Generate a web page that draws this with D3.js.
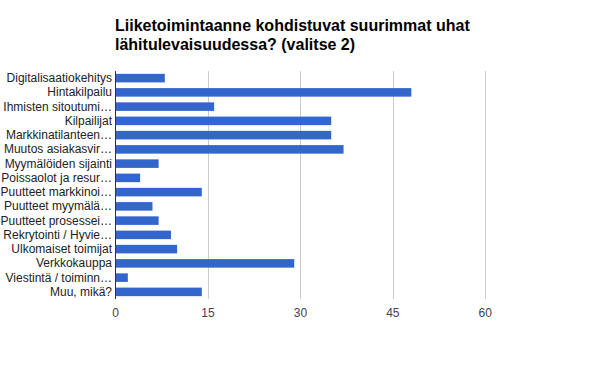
<!DOCTYPE html>
<html>
<head>
<meta charset="utf-8">
<script src="https://cdn.jsdelivr.net/npm/d3@7"></script>
<style>
  body { margin: 0; background: #fff; }
  text { font-family: Arial, "Liberation Sans", sans-serif; }
</style>
</head>
<body>
<script>
// chart data
var categories = [
  "Digitalisaatiokehitys",
  "Hintakilpailu",
  "Ihmisten sitoutumi\u2026",
  "Kilpailijat",
  "Markkinatilanteen\u2026",
  "Muutos asiakasvir\u2026",
  "Myymälöiden sijainti",
  "Poissaolot ja resur\u2026",
  "Puutteet markkinoi\u2026",
  "Puutteet myymälä\u2026",
  "Puutteet prosessei\u2026",
  "Rekrytointi / Hyvie\u2026",
  "Ulkomaiset toimijat",
  "Verkkokauppa",
  "Viestintä / toiminn\u2026",
  "Muu, mikä?"
];
var values = [8, 48, 16, 35, 35, 37, 7, 4, 14, 6, 7, 9, 10, 29, 2, 14];
var ticks = [0, 15, 30, 45, 60];
var titleLines = ["Liiketoimintaanne kohdistuvat suurimmat uhat", "lähitulevaisuudessa? (valitse 2)"];

var svg = d3.select("body").append("svg")
  .attr("width", 600)
  .attr("height", 371);

// plot area (note: "top" clashes with window.top, so use plotTop)
var plotLeft = 115.5, plotRight = 485.3, plotTop = 71, plotBottom = 299;

var x = d3.scaleLinear().domain([0, 60]).range([plotLeft, plotRight]);
var y = d3.scaleBand().domain(categories).range([plotTop, plotBottom]).paddingInner(0.4).paddingOuter(0.2);

// title
svg.selectAll("text.title").data(titleLines).enter().append("text")
  .attr("class", "title")
  .attr("x", 115)
  .attr("y", function(d, i){ return 31 + i * 19; })
  .style("font-size", "16px")
  .style("font-weight", "bold")
  .style("fill", "#000")
  .text(function(d){ return d; });

// gridlines
svg.selectAll("line.grid").data(ticks.slice(1)).enter().append("line")
  .attr("class", "grid")
  .attr("x1", function(d){ return Math.round(x(d)) + 0.5; })
  .attr("x2", function(d){ return Math.round(x(d)) + 0.5; })
  .attr("y1", plotTop)
  .attr("y2", plotBottom)
  .style("stroke", "#cccccc")
  .style("stroke-width", 1);

// bars
svg.selectAll("rect.bar").data(values).enter().append("rect")
  .attr("class", "bar")
  .attr("x", x(0))
  .attr("y", function(d, i){ return y(categories[i]); })
  .attr("width", function(d){ return x(d) - x(0); })
  .attr("height", y.bandwidth())
  .style("fill", "#3366cc");

// axis line
svg.append("line")
  .attr("x1", x(0)).attr("x2", x(0))
  .attr("y1", plotTop).attr("y2", plotBottom)
  .style("stroke", "#333").style("stroke-width", 1);

// category labels
svg.selectAll("text.cat").data(categories).enter().append("text")
  .attr("class", "cat")
  .attr("x", 112)
  .attr("y", function(d){ return y(d) + y.bandwidth() / 2 + 4; })
  .attr("text-anchor", "end")
  .style("font-size", "12px")
  .style("fill", "#222")
  .text(function(d){ return d; });

// tick labels
svg.selectAll("text.tk").data(ticks).enter().append("text")
  .attr("class", "tk")
  .attr("x", function(d){ return x(d); })
  .attr("y", 317)
  .attr("text-anchor", "middle")
  .style("font-size", "12px")
  .style("fill", "#444")
  .text(function(d){ return d; });
</script>
</body>
</html>
